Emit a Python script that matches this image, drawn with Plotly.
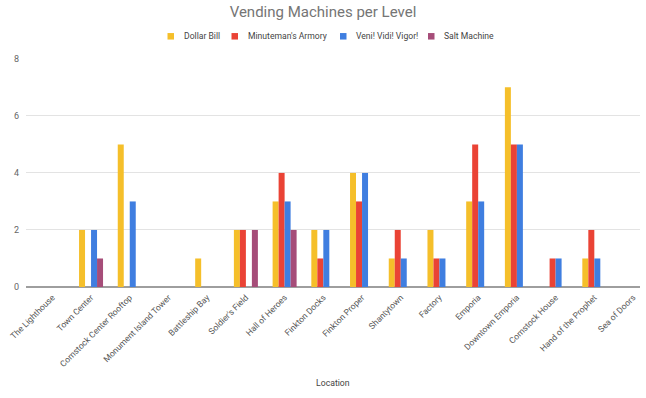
import plotly.graph_objects as go

locations = ["The Lighthouse", "Town Center", "Comstock Center Rooftop", "Monument Island Tower",
             "Battleship Bay", "Soldier's Field", "Hall of Heroes", "Finkton Docks", "Finkton Proper",
             "Shantytown", "Factory", "Emporia", "Downtown Emporia", "Comstock House",
             "Hand of the Prophet", "Sea of Doors"]
dollar_bill = [0, 2, 5, 0, 1, 2, 3, 2, 4, 1, 2, 3, 7, 0, 1, 0]
minuteman = [0, 0, 0, 0, 0, 2, 4, 1, 3, 2, 1, 5, 5, 1, 2, 0]
veni_vidi = [0, 2, 3, 0, 0, 0, 3, 2, 4, 1, 1, 3, 5, 1, 1, 0]
salt_machine = [0, 1, 0, 0, 0, 2, 2, 0, 0, 0, 0, 0, 0, 0, 0, 0]

series_names = ["Dollar Bill", "Minuteman's Armory", "Veni! Vidi! Vigor!", "Salt Machine"]
series_values = [dollar_bill, minuteman, veni_vidi, salt_machine]
series_colors = ["#F5BF2A", "#EA4335", "#3F7EE0", "#A64D79"]

W, H = 646, 398
ML, MR, MT, MB = 26, 6, 58, 111
PW, PH = W - ML - MR, H - MT - MB


def px_x(p):
    return (p - ML) / PW


def px_y(p):
    return (H - MB - p) / PH


fig = go.Figure()
for name, vals, col in zip(series_names, series_values, series_colors):
    fig.add_trace(go.Bar(x=list(range(len(locations))), y=vals, name=name,
                         marker=dict(color=col, line=dict(width=0)), showlegend=False))

# custom legend (square swatch + label)
legend_sq_x = [167.5, 231.5, 340, 428]
legend_cy = 36.3
shapes = []
annotations = []
for name, col, sx in zip(series_names, series_colors, legend_sq_x):
    shapes.append(dict(type="rect", xref="paper", yref="paper",
                       x0=px_x(sx), x1=px_x(sx + 6.5), y0=px_y(legend_cy + 3.25), y1=px_y(legend_cy - 3.25),
                       fillcolor=col, line=dict(width=0)))
    annotations.append(dict(text=name, xref="paper", yref="paper", x=px_x(sx + 14), y=px_y(legend_cy),
                            xanchor="left", yanchor="middle", showarrow=False,
                            font=dict(size=8.6, color="#444444")))
annotations.append(dict(text="Location", xref="paper", yref="paper", x=px_x(333), y=px_y(383),
                        xanchor="center", yanchor="middle", showarrow=False,
                        font=dict(size=8.7, color="#444444")))

fig.update_layout(
    width=W, height=H,
    margin=dict(l=ML, r=MR, t=MT, b=MB),
    paper_bgcolor="white", plot_bgcolor="white",
    font=dict(family="Roboto, Arial, sans-serif", color="#555555"),
    title=dict(text="Vending Machines per Level", x=0.5, xanchor="center", y=0.983, yanchor="top",
               font=dict(size=15, color="#757575")),
    barmode="group", bargap=0.38, bargroupgap=0,
    showlegend=False,
    shapes=shapes, annotations=annotations,
    xaxis=dict(tickmode="array", tickvals=list(range(len(locations))), ticktext=locations,
               range=[-0.68, 15.18], tickangle=-45, showgrid=False, zeroline=False,
               showline=False, ticks="", tickfont=dict(size=8.5, color="#555555"),
               ticklabelstandoff=3, automargin=False),
    yaxis=dict(range=[0, 8.03], tickvals=[0, 2, 4, 6, 8], showgrid=True, gridcolor="#e3e3e3",
               gridwidth=1, zeroline=True, zerolinecolor="#9e9e9e", zerolinewidth=2,
               ticks="", tickfont=dict(size=9, color="#666666"), ticklabelstandoff=6,
               automargin=False),
)

fig.write_html("out.html", config={"displayModeBar": False},
               post_script="document.body.style.margin='0';document.body.style.overflow='hidden';")
